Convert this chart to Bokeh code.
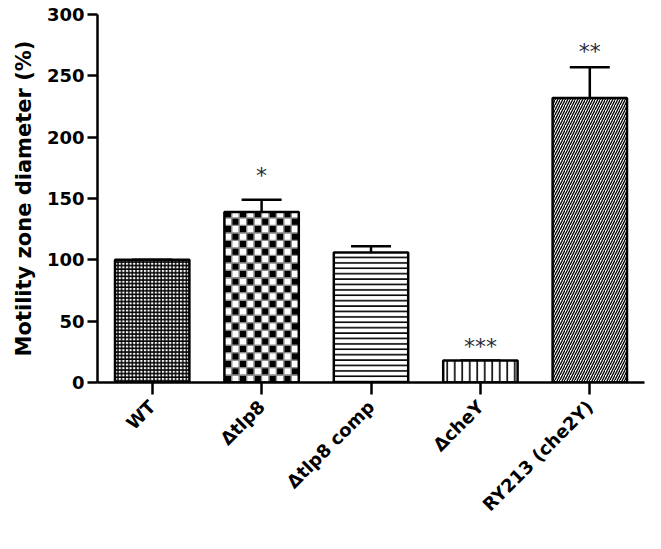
import math
from bokeh.plotting import figure
from bokeh.models import ColumnDataSource, Range1d, Whisker, TeeHead, FixedTicker
from bokeh.core.properties import value
from bokeh.embed import file_html
from bokeh.resources import INLINE

strains = ["WT", "Δtlp8", "Δtlp8 comp", "ΔcheY", "RY213 (che2Y)"]
means = [100, 139, 106, 18, 232]
errors = [0, 10, 5, 0, 25]
stars = ["", "*", "", "***", "**"]
star_heights = [0, 174, 0, 34, 275]
patterns = ["cross", " ", "horizontal_line", "vertical_line", "right_diagonal_line"]
scales = [3.6, 12, 5.4, 7.5, 5.0]
weights = [1.4, 1.0, 1.6, 1.6, 1.3]
y_ticks = [0, 50, 100, 150, 200, 250, 300]

BAR_W = 0.68
pos = list(range(len(strains)))
upper = [m + e for m, e in zip(means, errors)]
src = ColumnDataSource(dict(x=pos, top=means, upper=upper, err=errors,
                            star=stars, star_y=star_heights,
                            pat=patterns, sc=scales, wt=weights))

p = figure(x_range=Range1d(-0.5, len(strains) - 0.5), y_range=Range1d(0, 300),
           width=645, height=533, output_backend="svg", toolbar_location=None,
           min_border_left=97, min_border_right=1, min_border_top=14, min_border_bottom=151)
p.outline_line_color = None
p.xgrid.grid_line_color = None
p.ygrid.grid_line_color = None
p.background_fill_color = "white"
p.border_fill_color = "white"

# checkerboard fill for the Δtlp8 bar (cells computed from the bar value)
ci = 1
ncols = 10
cw = BAR_W / ncols
ch = 6.1
cx, cy, cwid, chei, ccol = [], [], [], [], []
row = 0
y0 = 0.0
while y0 < means[ci] - 0.01:
    hgt = min(ch, means[ci] - y0)
    for j in range(ncols):
        cx.append(pos[ci] - BAR_W / 2 + (j + 0.5) * cw)
        cy.append(y0 + hgt / 2)
        cwid.append(cw)
        chei.append(hgt)
        ccol.append("black" if (row + j) % 2 == 0 else "white")
    y0 += ch
    row += 1
p.rect(x=cx, y=cy, width=cwid, height=chei, fill_color=ccol,
       line_color="#8c8c8c", line_width=1.3)

src.data["fa"] = [0 if pt == " " else 1 for pt in patterns]
p.vbar(x="x", top="top", width=BAR_W, source=src, fill_color="white", fill_alpha="fa",
       line_color="black", line_width=2.5,
       hatch_pattern="pat", hatch_color="black", hatch_scale="sc", hatch_weight="wt")

w = Whisker(source=src, base="x", upper="upper", lower="top",
            upper_head=TeeHead(size=40, line_width=2.5, line_color="black"),
            lower_head=None, line_width=2.5, line_color="black")
p.add_layout(w)

p.text(x="x", y="star_y", text="star", source=src, text_align="center",
       text_baseline="middle", y_offset=6, text_font=value("DejaVu Sans"),
       text_font_size="22px", text_color="#2b2b3a")

p.yaxis.ticker = FixedTicker(ticks=y_ticks)
p.yaxis.axis_label = "Motility zone diameter (%)"
p.yaxis.axis_label_text_font = "DejaVu Sans"
p.yaxis.axis_label_text_font_style = "bold"
p.yaxis.axis_label_text_font_size = "21px"
p.yaxis.axis_label_standoff = 8
p.yaxis.major_label_text_font = "DejaVu Sans"
p.yaxis.major_label_text_font_style = "bold"
p.yaxis.major_label_text_font_size = "18px"
p.yaxis.major_label_standoff = 3

p.xaxis.ticker = FixedTicker(ticks=pos)
p.xaxis.major_label_overrides = {i: s for i, s in zip(pos, strains)}

for ax in (p.xaxis, p.yaxis):
    ax.axis_line_width = 2.5
    ax.major_tick_line_width = 2.5
    ax.major_tick_in = 0
    ax.minor_tick_line_color = None
    ax.major_label_text_color = "black"
    ax.axis_label_text_color = "black"
p.yaxis.major_tick_out = 10
p.xaxis.major_tick_out = 12

p.xaxis.major_label_orientation = math.pi / 4
p.xaxis.major_label_text_font = "DejaVu Sans"
p.xaxis.major_label_text_font_style = "bold"
p.xaxis.major_label_text_font_size = "18px"
p.xaxis.major_label_standoff = 9

open("out.html", "w").write(file_html(p, INLINE))
